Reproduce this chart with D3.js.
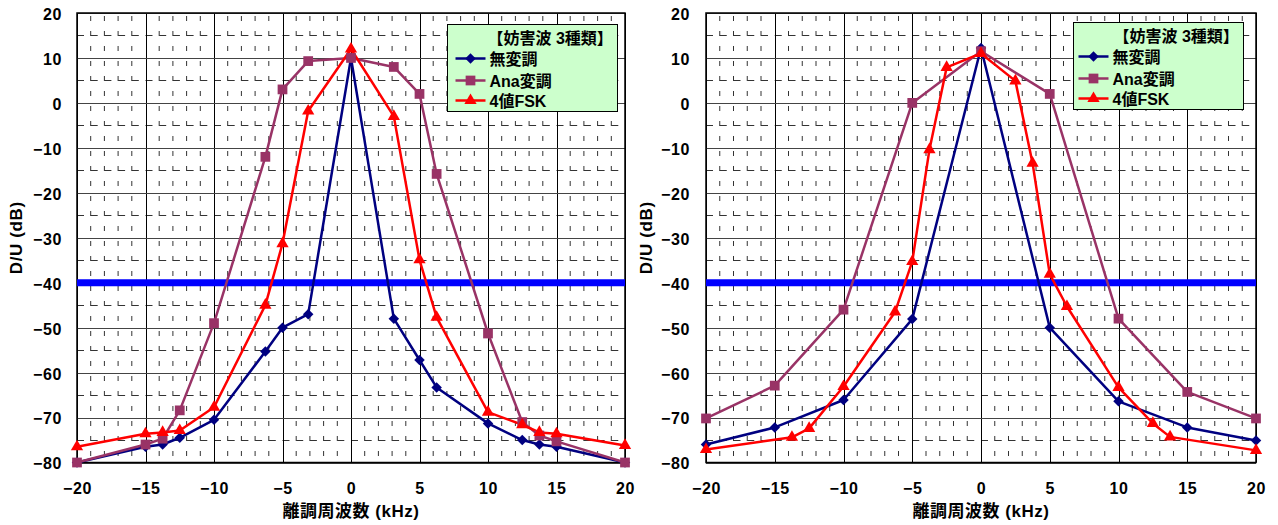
<!DOCTYPE html>
<html>
<head>
<meta charset="utf-8">
<script src="https://cdn.jsdelivr.net/npm/d3@7"></script>
<style>
  body { margin: 0; background: #fff; }
  svg { display: block; }
  text { font-family: "Liberation Sans", "Noto Sans CJK JP", sans-serif; font-weight: bold; }
</style>
</head>
<body>
<svg id="chart" width="1278" height="525"></svg>
<script>
// left chart
const leftX = [-20, -15, -13.75, -12.5, -10, -6.25, -5, -3.125, 0, 3.125, 5, 6.25, 10, 12.5, 13.75, 15, 20];
const leftMu = [-80, -76.5, -76, -74.5, -70.5, -55.3, -50, -47, 10, -48, -57.2, -63.3, -71.3, -75, -76, -76.5, -80];
const leftAna = [-80, -76, -74.7, -68.4, -49, -12, 3, 9.3, 10, 8, 2, -15.8, -51.3, -71, -74, -75.3, -80];
const leftFsk = [-76.5, -73.6, -73.3, -72.9, -67.7, -45, -31.3, -1.8, 12, -3, -34.9, -47.7, -68.8, -71.6, -73.3, -73.6, -76.2];

// right chart
const rightX = [-20, -15, -10, -5, 0, 5, 10, 15, 20];
const rightMu = [-76, -72.2, -66.1, -48.1, 12.2, -50, -66.4, -72.2, -75.1];
const rightAna = [-70.2, -62.9, -46, 0, 11.5, 2, -48, -64.3, -70.2];
const rightFskX = [-20, -13.75, -12.5, -10, -6.25, -5, -3.75, -2.5, 0, 2.5, 3.75, 5, 6.25, 10, 12.5, 13.75, 20];
const rightFsk = [-77.1, -74.4, -72.4, -63.1, -46.5, -35.3, -10.4, 7.9, 11, 4.9, -13.4, -38.1, -45.3, -63.3, -71.3, -74.3, -77.3];

const xTicks = [-20, -15, -10, -5, 0, 5, 10, 15, 20];
const yTicks = [20, 10, 0, -10, -20, -30, -40, -50, -60, -70, -80];
const limitLine = -40;
const legendTitle = "【妨害波 3種類】";
const seriesNames = ["無変調", "Ana変調", "4値FSK"];
const xTitle = "離調周波数 (kHz)";
const yTitle = "D/U (dB)";

const colors = ["#000080", "#993366", "#ff0000"];
const svg = d3.select("#chart");

const markerPath = (i) => {
  if (i === 0) return d3.symbol().type(d3.symbolSquare).size(55)();
  if (i === 1) return d3.symbol().type(d3.symbolSquare).size(95)();
  return d3.symbol().type(d3.symbolTriangle).size(65)();
};

const drawChart = (opt) => {
  const x = d3.scaleLinear().domain([-20, 20]).range([opt.left, opt.right]);
  const y = d3.scaleLinear().domain([-80, 20]).range([462.5, 13]);
  const g = svg.append("g");

  // minor grid
  const minorX = d3.range(-19, 20).filter(v => v % 5 !== 0);
  g.append("g").selectAll("line").data(minorX).enter().append("line")
      .attr("x1", d => x(d)).attr("x2", d => x(d))
      .attr("y1", y(20) + 3).attr("y2", y(-80))
      .attr("stroke", "#333").attr("stroke-width", 1)
      .attr("stroke-dasharray", "5,10");
  const pxK = x(1) - x(0);
  const minorY = d3.range(-75, 20, 10);
  g.append("g").selectAll("line").data(minorY).enter().append("line")
      .attr("x1", opt.left).attr("x2", opt.right)
      .attr("y1", d => Math.round(y(d)) + 0.5).attr("y2", d => Math.round(y(d)) + 0.5)
      .attr("stroke", "#333").attr("stroke-width", 1)
      .attr("stroke-dasharray", "7," + (pxK - 7));

  // major grid
  g.append("g").selectAll("line").data(xTicks).enter().append("line")
      .attr("x1", d => Math.round(x(d)) + 0.5).attr("x2", d => Math.round(x(d)) + 0.5)
      .attr("y1", y(20)).attr("y2", y(-80))
      .attr("stroke", "#000").attr("stroke-width", 1);
  g.append("g").selectAll("line").data(yTicks).enter().append("line")
      .attr("x1", opt.left).attr("x2", opt.right)
      .attr("y1", d => Math.round(y(d)) + 0.5).attr("y2", d => Math.round(y(d)) + 0.5)
      .attr("stroke", "#444").attr("stroke-width", 1);

  g.append("rect")
      .attr("x", opt.left).attr("y", y(20))
      .attr("width", opt.right - opt.left).attr("height", y(-80) - y(20))
      .attr("fill", "none").attr("stroke", "#000").attr("stroke-width", 1.5);

  // axes
  const yAxis = g.append("g")
      .attr("transform", `translate(${opt.left},0)`)
      .call(d3.axisLeft(y).tickValues(yTicks).tickSize(0).tickPadding(opt.left - opt.yLabelEnd));
  const xAxis = g.append("g")
      .attr("transform", `translate(0,${y(-80)})`)
      .call(d3.axisBottom(x).tickValues(xTicks).tickSize(0).tickPadding(20));
  [xAxis, yAxis].forEach(a => {
    a.select(".domain").remove();
    a.selectAll("text").attr("font-size", 16).attr("fill", "#000")
        .attr("letter-spacing", 0.6)
        .style("font-family", "'Liberation Sans', sans-serif").style("font-weight", "bold");
  });
  yAxis.selectAll("text").attr("dy", "0.4em");

  g.append("text")
      .attr("x", (opt.left + opt.right) / 2).attr("y", 517)
      .attr("text-anchor", "middle").attr("font-size", 17)
      .attr("letter-spacing", 0.5)
      .text(xTitle);
  g.append("text")
      .attr("transform", `translate(${opt.yTitleX},${y(-30)}) rotate(-90)`)
      .attr("text-anchor", "middle").attr("font-size", 17)
      .attr("letter-spacing", 0.6)
      .text(yTitle);

  // limit line
  g.append("line")
      .attr("x1", opt.left).attr("x2", opt.right)
      .attr("y1", y(limitLine)).attr("y2", y(limitLine))
      .attr("stroke", "#0000ff").attr("stroke-width", 7);

  // series
  const line = d3.line().x(d => x(d[0])).y(d => y(d[1]));
  opt.series.forEach((s, i) => {
    const pts = s.xs.map((v, k) => [v, s.ys[k]]);
    g.append("path").datum(pts)
        .attr("d", line).attr("fill", "none")
        .attr("stroke", colors[i]).attr("stroke-width", 2.5)
        .attr("stroke-linejoin", "round");
  });
  opt.series.forEach((s, i) => {
    const pts = s.xs.map((v, k) => [v, s.ys[k]]);
    g.append("g").selectAll("path").data(pts).enter().append("path")
        .attr("d", markerPath(i))
        .attr("transform", d => `translate(${x(d[0])},${y(d[1])})` + (i === 0 ? " rotate(45)" : ""))
        .attr("fill", colors[i]);
  });

  // legend
  const lg = g.append("g").attr("transform", `translate(${opt.lgX},${opt.lgY})`);
  lg.append("rect")
      .attr("width", 170).attr("height", 87)
      .attr("fill", "#ccffcc").attr("stroke", "#000").attr("stroke-width", 1);
  lg.append("text")
      .attr("x", opt.lgTitleX).attr("y", 19)
      .attr("font-size", 16).text(legendTitle);
  const rowY = [34, 56, 76];
  seriesNames.forEach((name, i) => {
    const r = lg.append("g").attr("transform", `translate(0,${rowY[i]})`);
    r.append("line")
        .attr("x1", opt.lgLineX).attr("x2", opt.lgLineX + 30)
        .attr("stroke", colors[i]).attr("stroke-width", 2.5);
    r.append("path")
        .attr("d", markerPath(i))
        .attr("transform", `translate(${opt.lgLineX + 15},0)` + (i === 0 ? " rotate(45)" : ""))
        .attr("fill", colors[i]);
    r.append("text")
        .attr("x", opt.lgLineX + 34).attr("y", 6)
        .attr("font-size", 16).text(name);
  });
};

drawChart({
  left: 77, right: 625, yLabelEnd: 62, yTitleX: 22,
  lgX: 447.5, lgY: 24.5, lgTitleX: 40, lgLineX: 8,
  series: [
    { xs: leftX, ys: leftMu },
    { xs: leftX, ys: leftAna },
    { xs: leftX, ys: leftFsk }
  ]
});

drawChart({
  left: 706, right: 1256, yLabelEnd: 690, yTitleX: 652,
  lgX: 1073.5, lgY: 22.5, lgTitleX: 40, lgLineX: 5,
  series: [
    { xs: rightX, ys: rightMu },
    { xs: rightX, ys: rightAna },
    { xs: rightFskX, ys: rightFsk }
  ]
});
</script>
</body>
</html>
